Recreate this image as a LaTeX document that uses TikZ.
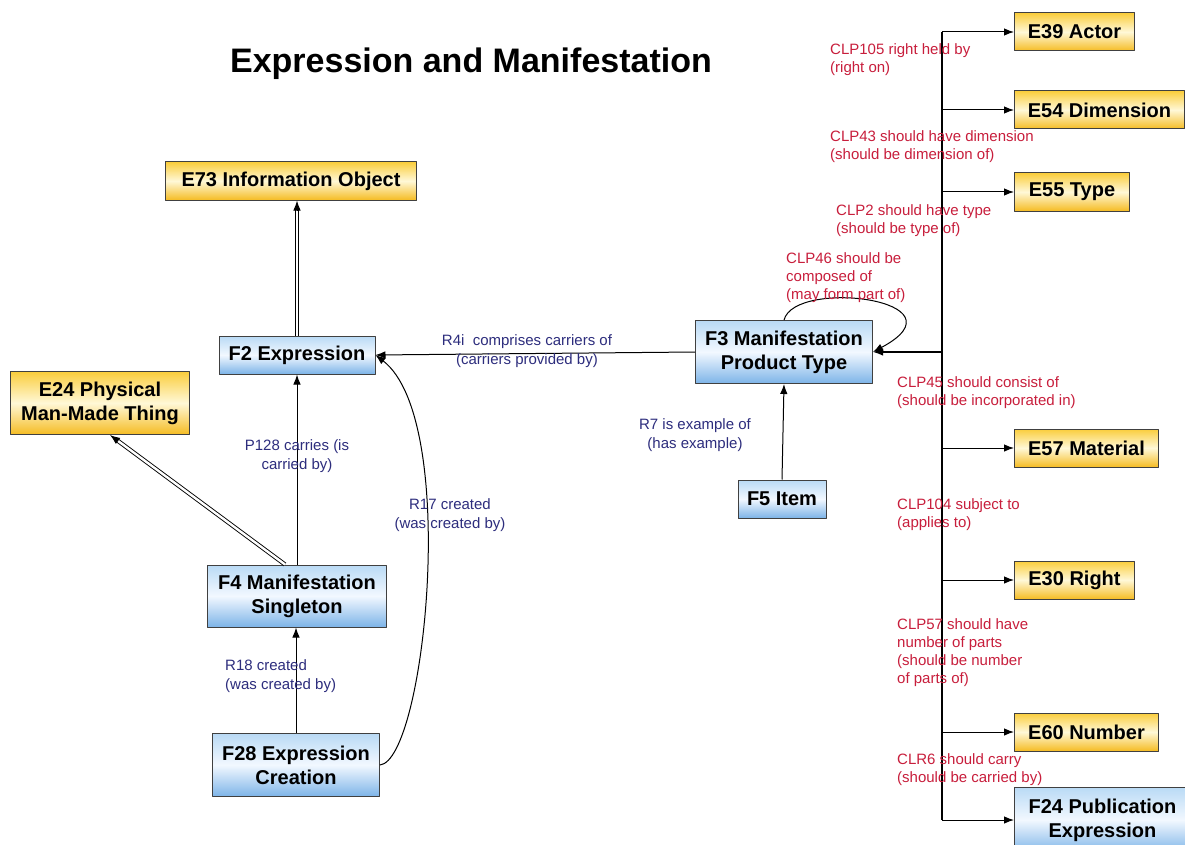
\documentclass[tikz,border=0pt]{standalone}
\usepackage{fontspec}
\setmainfont{Liberation Sans}
\usetikzlibrary{arrows.meta,calc}
\definecolor{relblue}{RGB}{45,45,125}
\definecolor{clpred}{RGB}{200,30,60}
\definecolor{goldtop}{RGB}{250,205,60}
\definecolor{goldmid}{RGB}{255,248,215}
\definecolor{goldbot}{RGB}{245,188,35}
\definecolor{bluetop}{RGB}{185,218,245}
\definecolor{bluemid}{RGB}{242,248,255}
\definecolor{bluebot}{RGB}{125,180,232}
\tikzset{
  ent/.style={draw=black!75, line width=1pt, top color=goldtop, bottom color=goldbot, middle color=goldmid,
    font=\fontsize{20}{24}\selectfont\bfseries, align=center, minimum height=38pt, inner sep=2pt},
  cls/.style={draw=black!75, line width=1pt, top color=bluetop, bottom color=bluebot, middle color=bluemid,
    font=\fontsize{20}{24}\selectfont\bfseries, align=center, minimum height=38pt, inner sep=2pt},
  rel/.style={text=relblue, font=\fontsize{15}{19}\selectfont, align=center, inner sep=0pt},
  clp/.style={text=clpred, font=\fontsize{15}{18}\selectfont, align=left, anchor=north west, inner sep=0pt},
  link/.style={line width=1pt, ->},
  isa/.style={double distance=2.4pt, line width=0.9pt, shorten >=8pt}
}
\begin{document}
\begin{tikzpicture}[x=1pt,y=-1pt,>={Latex[length=10pt,width=7.5pt]}, line join=round]
\clip (0,0) rectangle (1185,845);
\fill[white] (0,0) rectangle (1185,845);
\node[font=\fontsize{34}{38}\selectfont\bfseries] (title) at (471,64) {Expression and Manifestation};
% left part
\node[ent, minimum width=251pt] (e73) at (291,181) {E73 Information Object};
\node[cls, minimum width=156pt] (f2) at (297,355) {F2 Expression};
\node[ent, minimum width=179pt, minimum height=63pt] (e24) at (100,403) {E24 Physical\\Man-Made Thing};
\node[cls, minimum width=179pt, minimum height=62pt] (f4) at (297,596) {F4 Manifestation\\Singleton};
\node[cls, minimum width=167pt, minimum height=63pt] (f28) at (296,765) {F28 Expression\\Creation};
\node[cls, minimum width=177pt, minimum height=63pt] (f3) at (784,352) {F3 Manifestation\\Product Type};
\node[cls, minimum width=88pt] (f5) at (782,499) {F5 Item};
\node[cls, anchor=west, minimum width=176pt, minimum height=66pt] (f24) at (1014,820) {F24 Publication\\Expression};
% right hand properties
\coordinate (bus) at (942,0);
\foreach \nm/\yy/\bw/\txt in {e39/32/120/E39 Actor, e54/110/170/E54 Dimension, e55/192/115/E55 Type,
    e57/448/144/E57 Material, e30/580/120/E30 Right, e60/732/144/E60 Number}
  {\node[ent, anchor=west, minimum width=\bw pt] (\nm) at (1014,\yy) {\txt};
   \draw[link] (\nm.west -| bus) -- (\nm.west);}
\draw[line width=1.5pt] (bus |- e39.west) -- (bus |- f24.west);
\draw[link] (bus |- f24.west) -- (f24.west);
\draw[line width=1.5pt, ->] (f3.east -| bus) -- (f3.east);
\draw[link] (f3.north) .. controls (795,278) and (970,300) .. (f3.east);
% is-a links
\coordinate (e73in) at (f2.north |- e73.south);
\coordinate (e24in) at ([xshift=10pt]e24.south);
\coordinate (f4out) at ([xshift=-12pt]f4.north);
\draw[isa] (f2.north) -- (e73in);
\draw[link] ($(e73in)!10pt!(f2.north)$) -- (e73in);
\draw[isa] (f4out) -- (e24in);
\draw[link] ($(e24in)!10pt!(f4out)$) -- (e24in);
% links
\draw[link] (f4.north) -- (f2.south);
\draw[link] (f28.north) -- (f28.north |- f4.south);
\draw[link] (f28.east) .. controls (425,760) and (460,420) .. (f2.east);
\draw[link] (f3.west) -- (f2.east);
\draw[link] (f5.north) -- (f3.south);
% labels
\node[rel] (r4i) at (527,351) {R4i\ \ comprises carriers of\\(carriers provided by)};
\node[rel] (p128) at (297,456) {P128 carries (is\\carried by)};
\node[rel] (r17) at (450,515) {R17 created\\(was created by)};
\node[rel, align=left, anchor=west] (r18) at (225,676) {R18 created\\(was created by)};
\node[rel] (r7) at (695,435) {R7 is example of\\(has example)};
\node[clp] (clp105) at (830,43) {CLP105 right held by\\(right on)};
\node[clp] (clp43) at (830,130) {CLP43 should have dimension\\(should be dimension of)};
\node[clp] (clp2) at (836,204) {CLP2 should have type\\(should be type of)};
\node[clp] (clp46) at (786,252) {CLP46 should be\\composed of\\(may form part of)};
\node[clp] (clp45) at (897,376) {CLP45 should consist of\\(should be incorporated in)};
\node[clp] (clp104) at (897,498) {CLP104 subject to\\(applies to)};
\node[clp] (clp57) at (897,618) {CLP57 should have\\number of parts\\(should be number\\of parts of)};
\node[clp] (clr6) at (897,753) {CLR6 should carry\\(should be carried by)};
\end{tikzpicture}
\end{document}
